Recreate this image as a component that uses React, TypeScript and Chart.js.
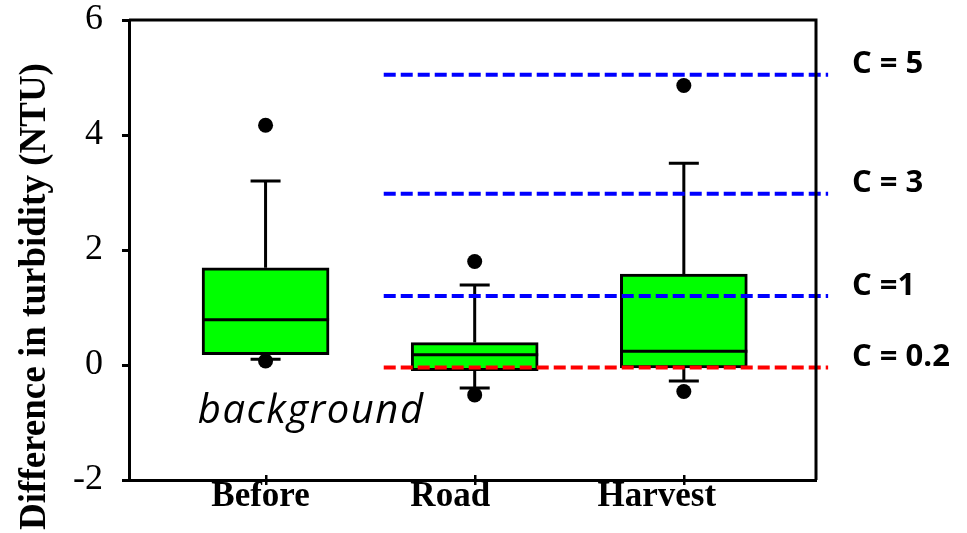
import React, { useEffect, useRef } from "react";
import { Chart, registerables } from "chart.js";

Chart.register(...registerables);

// ---- data ----
const categories = ["Before", "Road", "Harvest"];
const categoryPositions = [1, 2, 3];
const labelPositions = [0.976, 1.883, 2.871];
const q1Values = [0.18, -0.1, -0.05];
const q3Values = [1.69, 0.39, 1.58];
const medianValues = [0.785, 0.18, 0.24];
const whiskerLowValues = [0.1, -0.4, -0.28];
const whiskerHighValues = [3.2, 1.39, 3.51];
const outlierHighValues = [4.17, 1.8, 4.86];
const outlierLowValues = [0.07, -0.52, -0.46];
const thresholdValues = [5.05, 2.98, 1.2, -0.045];
const thresholdLabels = ["C = 5", "C = 3", "C =1", "C = 0.2"];
const thresholdColors = ["#0000ff", "#0000ff", "#0000ff", "#ff0000"];
const thresholdSpan = [1.565, 3.69];
const yTickValues = [-2, 0, 2, 4, 6];
const yAxisTitle = "Difference in turbidity (NTU)";
const noteText = "background";
const notePosition = [1.218, -1.0];

const boxPlugin = {
  id: "boxExtras",
  afterDatasetDraw(chart: any, args: any) {
    if (args.index !== 0) return;
    const { ctx } = chart;
    const xs = chart.scales.x;
    const ys = chart.scales.y;
    const meta = chart.getDatasetMeta(0);
    ctx.save();
    ctx.strokeStyle = "#000";
    ctx.lineWidth = 3;
    ctx.lineCap = "butt";
    categoryPositions.forEach((pos, i) => {
      const px = xs.getPixelForValue(pos);
      const el = meta.data[i];
      const half = el ? el.width / 2 : 63;
      const capHalf = 15;
      const yq1 = ys.getPixelForValue(q1Values[i]);
      const yq3 = ys.getPixelForValue(q3Values[i]);
      const yLo = ys.getPixelForValue(whiskerLowValues[i]);
      const yHi = ys.getPixelForValue(whiskerHighValues[i]);
      const yMed = ys.getPixelForValue(medianValues[i]);
      ctx.beginPath();
      ctx.moveTo(px, yq3);
      ctx.lineTo(px, yHi);
      ctx.moveTo(px - capHalf, yHi);
      ctx.lineTo(px + capHalf, yHi);
      ctx.moveTo(px, yq1);
      ctx.lineTo(px, yLo);
      ctx.moveTo(px - capHalf, yLo);
      ctx.lineTo(px + capHalf, yLo);
      ctx.moveTo(px - half, yMed);
      ctx.lineTo(px + half, yMed);
      ctx.stroke();
    });
    ctx.restore();
  },
  afterDraw(chart: any) {
    const { ctx, chartArea } = chart;
    const xs = chart.scales.x;
    const ys = chart.scales.y;
    ctx.save();
    // frame
    ctx.strokeStyle = "#000";
    ctx.lineWidth = 3;
    ctx.beginPath();
    ctx.moveTo(chartArea.left, chartArea.top);
    ctx.lineTo(chartArea.right, chartArea.top);
    ctx.lineTo(chartArea.right, chartArea.bottom);
    ctx.stroke();
    // x tick marks at category centers
    ctx.lineWidth = 2.5;
    ctx.beginPath();
    categoryPositions.forEach((pos) => {
      const px = Math.round(xs.getPixelForValue(pos)) + 0.25;
      ctx.moveTo(px, chartArea.bottom - 5);
      ctx.lineTo(px, chartArea.bottom + 5);
    });
    ctx.stroke();
    // threshold labels
    ctx.fillStyle = "#000";
    ctx.font = 'bold 31px "Open Sans", "Liberation Sans", sans-serif';
    ctx.textAlign = "left";
    ctx.textBaseline = "middle";
    thresholdValues.forEach((v, i) => {
      const y = ys.getPixelForValue(v) - 10;
      ctx.fillText(thresholdLabels[i], chartArea.right + 36, y);
    });
    // note text
    ctx.font = 'italic 40px "Open Sans", "Liberation Sans", sans-serif';
    (ctx as any).letterSpacing = "1.5px";
    ctx.textAlign = "center";
    ctx.textBaseline = "alphabetic";
    ctx.fillText(
      noteText,
      xs.getPixelForValue(notePosition[0]),
      ys.getPixelForValue(notePosition[1])
    );
    (ctx as any).letterSpacing = "0px";
    // y axis title
    ctx.font = 'bold 37px "Liberation Serif", "Times New Roman", serif';
    ctx.translate(45, 296.5);
    ctx.rotate(-Math.PI / 2);
    ctx.textAlign = "center";
    ctx.textBaseline = "alphabetic";
    ctx.fillText(yAxisTitle, 0, 0);
    ctx.restore();
  },
};

export default function App() {
  const canvasRef = useRef<HTMLCanvasElement | null>(null);

  useEffect(() => {
    if (!canvasRef.current) return;
    const datasets: any[] = [
      {
        type: "bar",
        data: categoryPositions.map((x, i) => ({ x, y: [q1Values[i], q3Values[i]] })),
        backgroundColor: "#00ff00",
        borderColor: "#000000",
        borderWidth: 3,
        borderSkipped: false,
        barThickness: 127,
        order: 3,
      },
      {
        type: "scatter",
        data: [
          ...categoryPositions.map((x, i) => ({ x, y: outlierHighValues[i] })),
          ...categoryPositions.map((x, i) => ({ x, y: outlierLowValues[i] })),
        ],
        pointRadius: 7.5,
        pointHoverRadius: 7.5,
        pointBackgroundColor: "#000000",
        pointBorderWidth: 0,
        order: 2,
      },
      ...thresholdValues.map((v, i) => ({
        type: "line",
        data: [
          { x: thresholdSpan[0], y: v },
          { x: thresholdSpan[1], y: v },
        ],
        borderColor: thresholdColors[i],
        borderWidth: 4,
        borderDash: [12, 5],
        pointRadius: 0,
        fill: false,
        clip: false,
        order: 1,
      })),
    ];

    const chart = new Chart(canvasRef.current, {
      type: "bar",
      data: { datasets },
      options: {
        animation: false,
        responsive: true,
        maintainAspectRatio: false,
        events: [],
        layout: { padding: { top: 20, right: 151, bottom: 0, left: 0 } },
        plugins: {
          legend: { display: false },
          tooltip: { enabled: false },
        },
        scales: {
          x: {
            type: "linear",
            offset: false,
            min: 0.347,
            max: 3.632,
            position: "bottom",
            afterBuildTicks: (scale: any) => {
              scale.ticks = labelPositions.map((v) => ({ value: v }));
            },
            afterFit: (scale: any) => {
              scale.height = 53;
              scale.paddingLeft = 0;
              scale.paddingRight = 0;
            },
            ticks: {
              autoSkip: false,
              maxRotation: 0,
              padding: -4,
              color: "#000",
              font: { family: '"Liberation Serif", "Times New Roman", serif', size: 35, weight: "bold" },
              callback: (_v: any, idx: number) => categories[idx],
            },
            grid: { display: false, drawTicks: false, offset: false },
            border: { display: true, color: "#000", width: 3 },
          },
          y: {
            type: "linear",
            min: -2,
            max: 6,
            afterBuildTicks: (scale: any) => {
              scale.ticks = yTickValues.map((v) => ({ value: v }));
            },
            afterFit: (scale: any) => {
              scale.width = 129;
              scale.paddingTop = 0;
              scale.paddingBottom = 0;
            },
            ticks: {
              padding: 19,
              color: "#000",
              font: { family: '"Liberation Serif", "Times New Roman", serif', size: 36, lineHeight: 1 },
              callback: (v: any) => String(v).replace("\u2212", "-"),
            },
            grid: {
              display: true,
              drawOnChartArea: false,
              drawTicks: true,
              tickLength: 7,
              tickWidth: 3,
              tickColor: "#000",
              color: "#000",
            },
            border: { display: true, color: "#000", width: 3 },
          },
        },
      } as any,
      plugins: [boxPlugin],
    });
    return () => chart.destroy();
  }, []);

  return (
    <div style={{ position: "fixed", left: 0, top: 0, width: 967, height: 533, background: "#fff" }}>
      <canvas ref={canvasRef} />
    </div>
  );
}
